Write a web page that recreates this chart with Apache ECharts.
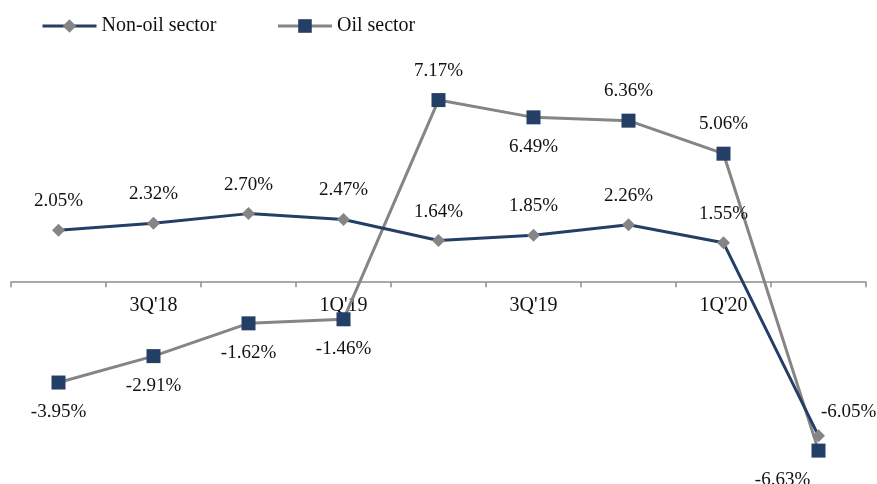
<!DOCTYPE html>
<html>
<head>
<meta charset="utf-8">
<script src="https://cdn.jsdelivr.net/npm/echarts@6/dist/echarts.min.js"></script>
<style>
  html, body { margin: 0; padding: 0; background: #fff; }
  #chart { width: 877px; height: 484px; }
</style>
</head>
<body>
<div id="chart"></div>
<script>
// Quarterly growth, year on year (%)
const quarters = ["2Q'18", "3Q'18", "4Q'18", "1Q'19", "2Q'19", "3Q'19", "4Q'19", "1Q'20", "2Q'20"];
const nonOil = [2.05, 2.32, 2.70, 2.47, 1.64, 1.85, 2.26, 1.55, -6.05];
const oil = [-3.95, -2.91, -1.62, -1.46, 7.17, 6.49, 6.36, 5.06, -6.63];

// Where each value label sits relative to its marker
const nonOilLabelPos = ['top', 'top', 'top', 'top', 'top', 'top', 'top', 'top', 'upRight'];
const oilLabelPos = ['bottom', 'bottom', 'bottom', 'bottom', 'top', 'bottom', 'top', 'top', 'downLeft'];

const NAVY = '#243f66';
const GREY = '#858585';
const FONT = 'Liberation Serif';

const Y_MIN = -7, Y_MAX = 8;
const GRID_TOP = 79, GRID_BOTTOM = 24, HEIGHT = 484;

function labelFor(p) {
  if (p === 'upRight') return { position: 'right', distance: 0, offset: [-4, -24] };
  if (p === 'downLeft') return { position: 'bottom', distance: 13, offset: [-36, 0] };
  return { position: p, distance: 13 };
}

function withLabels(values, places) {
  return values.map((v, i) => ({ value: v, label: labelFor(places[i]) }));
}

// pixel distance from the grid's bottom edge up to the zero line
const plotH = HEIGHT - GRID_TOP - GRID_BOTTOM;
const zeroLift = plotH * (0 - Y_MIN) / (Y_MAX - Y_MIN);

const chart = echarts.init(document.getElementById('chart'));
chart.setOption({
  animation: false,
  textStyle: { fontFamily: FONT },
  legend: {
    left: 36,
    top: 11,
    itemWidth: 54,
    itemHeight: 17,
    itemGap: 60,
    textStyle: { fontFamily: FONT, fontSize: 20, color: '#111' },
    data: [
      { name: 'Non-oil sector', lineStyle: { width: 3 } },
      { name: 'Oil sector', lineStyle: { width: 3 } }
    ]
  },
  grid: { left: 11, right: 11, top: GRID_TOP, bottom: GRID_BOTTOM, containLabel: false, outerBoundsMode: 'none' },
  xAxis: {
    type: 'category',
    data: quarters,
    boundaryGap: true,
    offset: -zeroLift,
    axisLine: { onZero: false, lineStyle: { color: '#8c8c8c', width: 1.5 } },
    axisTick: { show: true, interval: 0, length: 5, inside: false, lineStyle: { color: '#8c8c8c', width: 1.5 } },
    axisLabel: {
      interval: (i) => i % 2 === 1,
      margin: 14,
      fontFamily: FONT,
      fontSize: 20,
      color: '#111'
    },
    splitLine: { show: false }
  },
  yAxis: {
    type: 'value',
    min: Y_MIN,
    max: Y_MAX,
    show: false
  },
  series: [
    {
      name: 'Non-oil sector',
      type: 'line',
      data: withLabels(nonOil, nonOilLabelPos),
      symbol: 'diamond',
      symbolSize: 13,
      lineStyle: { color: NAVY, width: 3 },
      itemStyle: { color: GREY },
      label: {
        show: true,
        formatter: (p) => p.value.toFixed(2) + '%',
        fontFamily: FONT,
        fontSize: 19,
        color: '#111'
      },
      z: 3
    },
    {
      name: 'Oil sector',
      type: 'line',
      data: withLabels(oil, oilLabelPos),
      symbol: 'rect',
      symbolSize: 14,
      lineStyle: { color: GREY, width: 3 },
      itemStyle: { color: NAVY },
      label: {
        show: true,
        formatter: (p) => p.value.toFixed(2) + '%',
        fontFamily: FONT,
        fontSize: 19,
        color: '#111'
      },
      z: 2
    }
  ]
});
</script>
</body>
</html>
